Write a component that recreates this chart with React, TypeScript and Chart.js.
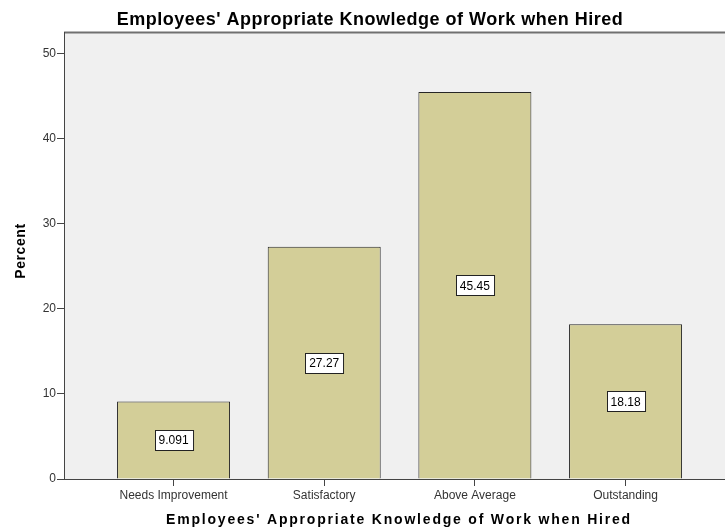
import React, { useEffect, useRef } from "react";
import { Chart, registerables } from "chart.js";

Chart.register(...registerables);

const categories = ["Needs Improvement", "Satisfactory", "Above Average", "Outstanding"];
const percentValues = [9.091, 27.27, 45.45, 18.18];
const yTicks = [0, 10, 20, 30, 40, 50];
const chartTitle = "Employees' Appropriate Knowledge of Work when Hired";
const xTitle = "Employees' Appropriate Knowledge of Work when Hired";
const yTitle = "Percent";

const FONT = "'Liberation Sans', Arial, sans-serif";

export default function App() {
  const ref = useRef<HTMLCanvasElement | null>(null);

  useEffect(() => {
    const canvas = ref.current;
    if (!canvas) return;

    const decor = {
      id: "decor",
      beforeDraw(chart: any) {
        const { ctx, chartArea: a } = chart;
        ctx.save();
        ctx.fillStyle = "#ffffff";
        ctx.fillRect(0, 0, chart.width, chart.height);
        ctx.fillStyle = "#f0f0f0";
        ctx.fillRect(a.left, a.top, a.right - a.left, a.bottom - a.top);
        ctx.strokeStyle = "#707070";
        ctx.lineWidth = 2;
        ctx.beginPath();
        ctx.moveTo(a.left, a.top + 0.5);
        ctx.lineTo(a.right, a.top + 0.5);
        ctx.stroke();
        ctx.restore();
      },
      afterDraw(chart: any) {
        const { ctx } = chart;
        ctx.save();
        ctx.fillStyle = "#000";
        ctx.textAlign = "center";
        ctx.textBaseline = "alphabetic";
        ctx.font = `bold 18px ${FONT}`;
        (ctx as any).letterSpacing = "0.5px";
        ctx.fillText(chartTitle, 370, 25);
        ctx.font = `bold 14px ${FONT}`;
        (ctx as any).letterSpacing = "1.8px";
        ctx.fillText(xTitle, 399, 524);
        ctx.translate(25, 251);
        ctx.rotate(-Math.PI / 2);
        ctx.font = `bold 14px ${FONT}`;
        (ctx as any).letterSpacing = "0.6px";
        ctx.fillText(yTitle, 0, 0);
        ctx.restore();
      },
    };

    const labels = {
      id: "barLabels",
      afterDatasetsDraw(chart: any) {
        const { ctx } = chart;
        const meta = chart.getDatasetMeta(0);
        ctx.save();
        ctx.font = `12px ${FONT}`;
        ctx.textAlign = "center";
        ctx.textBaseline = "middle";
        meta.data.forEach((bar: any, i: number) => {
          const txt = percentValues[i].toPrecision(4);
          const cy = (bar.y + bar.base) / 2;
          const w = ctx.measureText(txt).width + 8;
          const h = 20;
          const x0 = Math.round(bar.x - w / 2) + 0.5;
          const y0 = Math.round(cy - h / 2) + 0.5;
          ctx.fillStyle = "#ffffff";
          ctx.fillRect(x0, y0, w, h);
          ctx.strokeStyle = "#222";
          ctx.lineWidth = 1;
          ctx.strokeRect(x0, y0, w, h);
          ctx.fillStyle = "#000";
          ctx.fillText(txt, bar.x, cy + 1);
        });
        ctx.restore();
      },
    };

    const chart = new Chart(canvas, {
      type: "bar",
      data: {
        datasets: [
          {
            data: percentValues.map((v, i) => ({ x: i, y: v })),
            backgroundColor: "#d3ce98",
            borderColor: "#262626",
            borderWidth: 1,
            barPercentage: 0.75,
            categoryPercentage: 1,
          },
        ],
      },
      options: {
        animation: false,
        responsive: false,
        layout: { padding: { top: 32, right: 0, left: 0, bottom: 0 } },
        plugins: {
          legend: { display: false },
          tooltip: { enabled: false },
          title: { display: false },
        },
        scales: {
          x: {
            type: "linear",
            offset: false,
            min: -0.727,
            max: 3.66,
            afterBuildTicks(scale: any) {
              scale.ticks = categories.map((_, i) => ({ value: i }));
            },
            afterFit(scale: any) {
              scale.height = 52;
            },
            ticks: {
              autoSkip: false,
              maxRotation: 0,
              padding: 2,
              color: "#333",
              font: { family: FONT, size: 12 },
              callback: (v: any) => categories[v] ?? "",
            },
            grid: {
              offset: false,
              drawOnChartArea: false,
              drawTicks: true,
              tickLength: 7,
              color: "#444",
            },
            border: { display: true, color: "#444", width: 1 },
          },
          y: {
            min: 0,
            max: 52.5,
            afterBuildTicks(scale: any) {
              scale.ticks = yTicks.map((v) => ({ value: v }));
            },
            afterFit(scale: any) {
              scale.width = 64;
            },
            ticks: {
              padding: 1,
              color: "#333",
              font: { family: FONT, size: 12 },
            },
            grid: {
              drawOnChartArea: false,
              drawTicks: true,
              tickLength: 7,
              color: "#444",
            },
            border: { display: true, color: "#444", width: 1 },
          },
        },
      },
      plugins: [decor, labels],
    });

    return () => chart.destroy();
  }, []);

  return (
    <div style={{ position: "fixed", left: 0, top: 0, width: 725, height: 531 }}>
      <canvas ref={ref} width={725} height={531} />
    </div>
  );
}
